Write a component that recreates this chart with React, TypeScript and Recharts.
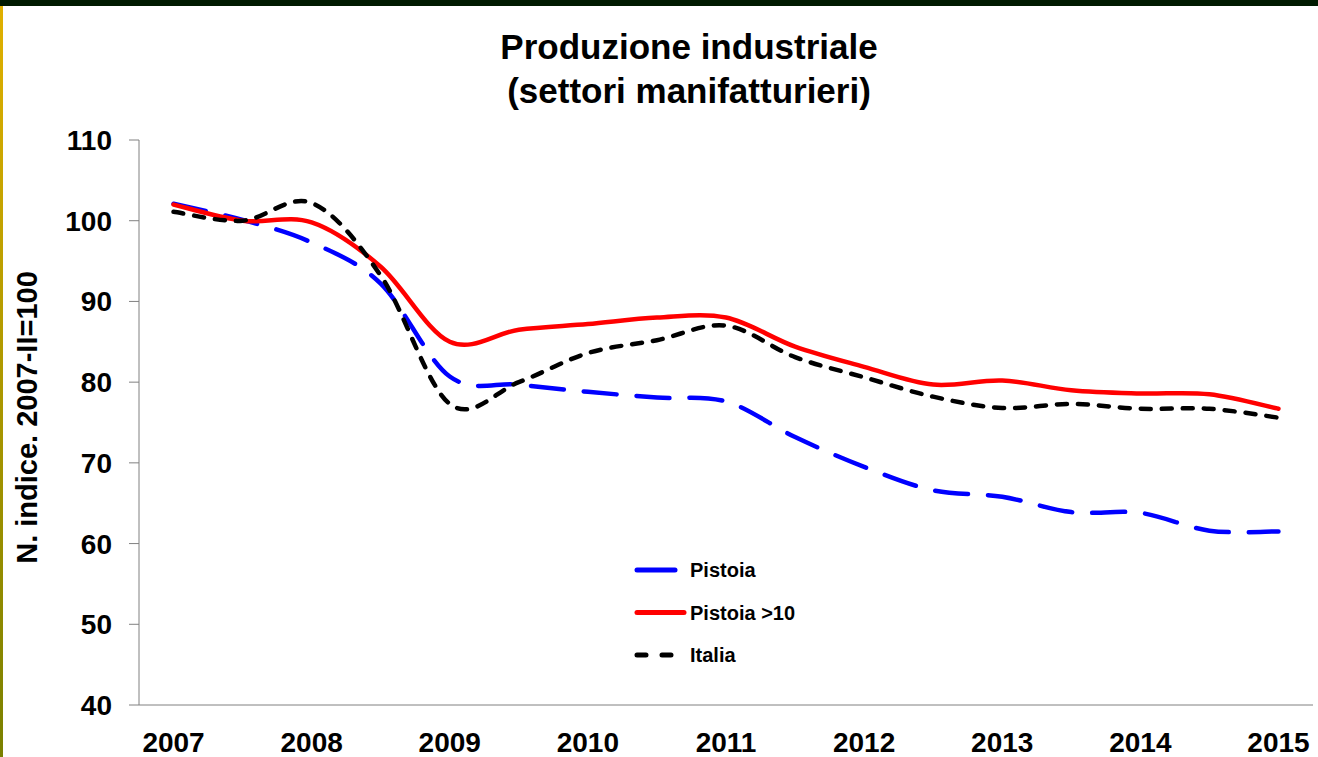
import { LineChart, Line, XAxis, YAxis, Legend, Label } from 'recharts';

const periods = [
  '2007-I', '2007-II', '2008-I', '2008-II', '2009-I', '2009-II', '2010-I', '2010-II', '2011-I',
  '2011-II', '2012-I', '2012-II', '2013-I', '2013-II', '2014-I', '2014-II', '2015-I',
];
const pistoia = [102.1, 100.1, 97.3, 92.2, 80.7, 79.7, 78.8, 78.1, 77.6, 73.2, 69.5, 66.6, 65.8, 63.9, 63.8, 61.6, 61.5];
const pistoia10 = [102.0, 100.0, 99.8, 94.3, 85.0, 86.5, 87.2, 88.0, 88.0, 84.4, 81.9, 79.7, 80.2, 79.0, 78.6, 78.5, 76.7];
const italia = [101.1, 100.0, 102.2, 93.2, 77.3, 80.0, 83.6, 85.2, 87.0, 83.1, 80.6, 78.2, 76.8, 77.3, 76.7, 76.7, 75.6];
const yTicks = [40, 50, 60, 70, 80, 90, 100, 110];

const series = [
  { key: 'pistoia', name: 'Pistoia', color: '#0000ff', dash: '33 20', legendDash: '38 100' },
  { key: 'pistoia10', name: 'Pistoia >10', color: '#ff0000', dash: undefined, legendDash: undefined },
  { key: 'italia', name: 'Italia', color: '#000000', dash: '10 11', legendDash: '9 16' },
];

const data = periods.map((p, i) => ({
  period: p,
  pos: i + 0.5,
  pistoia: pistoia[i],
  pistoia10: pistoia10[i],
  italia: italia[i],
}));

// tick lines sit on the half-year boundaries, year labels under the first half
const boundaryTicks = periods.map((_, i) => i).concat(periods.length);
const yearTicks = data.filter((d) => d.period.endsWith('-I')).map((d) => d.pos);
const yearOf = (v: number) => periods[Math.floor(v)].slice(0, 4);

const FONT = "'Liberation Sans', Arial, sans-serif";
const tickStyle = { fill: '#000', fontSize: 28, fontWeight: 700, fontFamily: FONT };

// Excel-like smoothing (Catmull-Rom through the points)
function smoothCurve(context: any) {
  let pts: number[][] = [];
  return {
    areaStart() {},
    areaEnd() {},
    lineStart() {
      pts = [];
    },
    point(x: number, y: number) {
      pts.push([+x, +y]);
    },
    lineEnd() {
      const n = pts.length;
      if (!n) return;
      context.moveTo(pts[0][0], pts[0][1]);
      for (let i = 0; i < n - 1; i++) {
        const p0 = pts[Math.max(i - 1, 0)];
        const p1 = pts[i];
        const p2 = pts[i + 1];
        const p3 = pts[Math.min(i + 2, n - 1)];
        context.bezierCurveTo(
          p1[0] + (p2[0] - p0[0]) / 6,
          p1[1] + (p2[1] - p0[1]) / 6,
          p2[0] - (p3[0] - p1[0]) / 6,
          p2[1] - (p3[1] - p1[1]) / 6,
          p2[0],
          p2[1]
        );
      }
    },
  };
}

function LegendBox() {
  return (
    <svg width={180} height={120} style={{ display: 'block' }}>
      {series.map((s, i) => {
        const y = 18 + i * 42.5;
        return (
          <g key={s.key}>
            <line x1={9} x2={56} y1={y} y2={y} stroke={s.color} strokeWidth={5} strokeLinecap="round" strokeDasharray={s.legendDash} />
            <text x={62} y={y} dy="0.36em" fontSize={20} fontWeight={700} fontFamily={FONT} fill="#000">
              {s.name}
            </text>
          </g>
        );
      })}
    </svg>
  );
}

function YTitle(props: any) {
  const vb = props.viewBox || { x: 0, y: 140, width: 139, height: 565 };
  const x = vb.x + 27;
  const y = vb.y + vb.height / 2 - 5;
  return (
    <text
      x={x}
      y={y}
      transform={`rotate(-90 ${x} ${y})`}
      textAnchor="middle"
      dy="0.36em"
      fontSize={29}
      fontWeight={700}
      fontFamily={FONT}
      fill="#000"
    >
      N. indice. 2007-II=100
    </text>
  );
}

export default function App() {
  return (
    <div style={{ position: 'absolute', left: 0, top: 0, width: 1318, height: 757, background: '#fff', overflow: 'hidden' }}>
      <div style={{ position: 'absolute', left: 0, top: 0, width: 1318, height: 6, background: '#001a00' }} />
      <div style={{ position: 'absolute', left: 0, top: 6, width: 3, height: 751, background: 'linear-gradient(#e0b000, #7a8000)' }} />
      <div
        style={{
          position: 'absolute',
          left: 689,
          top: 25,
          transform: 'translateX(-50%)',
          textAlign: 'center',
          whiteSpace: 'nowrap',
          fontFamily: FONT,
          fontWeight: 700,
          fontSize: 35,
          lineHeight: '44px',
          color: '#000',
        }}
      >
        Produzione industriale
        <br />
        (settori manifatturieri)
      </div>
      <LineChart width={1318} height={757} data={data} margin={{ top: 140, right: 5, bottom: 0, left: 0 }}>
        <XAxis
          xAxisId="grid"
          dataKey="pos"
          type="number"
          domain={[0, periods.length]}
          ticks={boundaryTicks}
          interval={0}
          tick={false}
          tickSize={10}
          height={12}
          stroke="#808080"
        />
        <XAxis
          xAxisId="years"
          dataKey="pos"
          type="number"
          domain={[0, periods.length]}
          ticks={yearTicks}
          interval={0}
          tickFormatter={yearOf}
          axisLine={false}
          tickLine={false}
          tickSize={0}
          tickMargin={15}
          height={40}
          tick={tickStyle}
        />
        <XAxis
          xAxisId="frameTop"
          orientation="top"
          dataKey="pos"
          type="number"
          domain={[0, periods.length]}
          tick={false}
          tickLine={false}
          height={0}
          stroke="#808080"
        />
        <YAxis
          yAxisId="left"
          domain={[40, 110]}
          ticks={yTicks}
          interval={0}
          width={139}
          tickSize={10}
          tickMargin={17}
          stroke="#808080"
          tick={tickStyle}
        >
          <Label content={<YTitle />} />
        </YAxis>
        <YAxis yAxisId="frameRight" orientation="right" domain={[40, 110]} tick={false} tickLine={false} width={0} stroke="#808080" />
        <Legend
          layout="vertical"
          align="center"
          verticalAlign="middle"
          content={() => <LegendBox />}
          wrapperStyle={{ left: 628, top: 552, width: 180, height: 120 }}
        />
        {series.map((s) => (
          <Line
            key={s.key}
            xAxisId="grid"
            yAxisId="left"
            type={smoothCurve as any}
            dataKey={s.key}
            name={s.name}
            stroke={s.color}
            strokeWidth={4.5}
            strokeDasharray={s.dash}
            strokeLinecap="round"
            dot={false}
            activeDot={false}
            isAnimationActive={false}
          />
        ))}
      </LineChart>
    </div>
  );
}
